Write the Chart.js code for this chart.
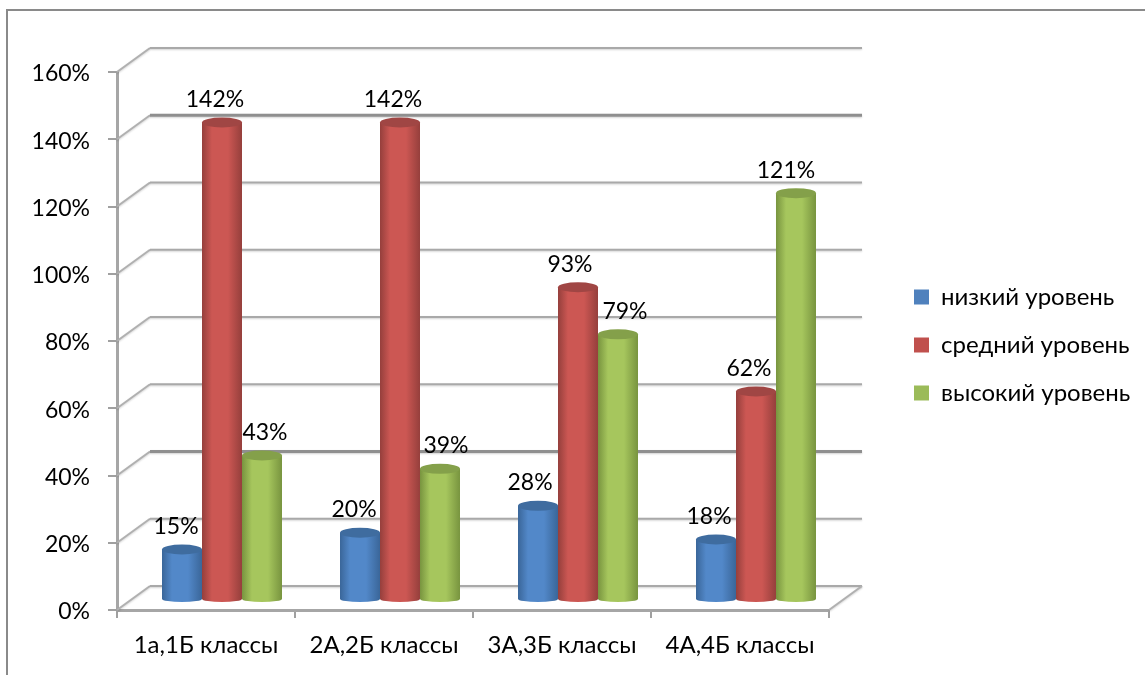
<!DOCTYPE html>
<html><head><meta charset="utf-8">
<style>
html,body{margin:0;padding:0;background:#fff;overflow:hidden}
#frame{position:absolute;left:6px;top:9px;width:1139px;height:666px;border-left:2px solid #8a8a8a;border-top:2px solid #8a8a8a;box-sizing:border-box}
canvas{position:absolute;left:0;top:0}
</style>
<script src="https://cdn.jsdelivr.net/npm/chart.js@4"></script>
</head><body>
<div id="frame"></div>
<canvas id="c" width="1145" height="675"></canvas>
<script>
const categories = ['1а,1Б классы','2А,2Б классы','3А,3Б классы','4А,4Б классы'];
const lowLevel = [15,20,28,18];
const midLevel = [142,142,93,62];
const highLevel = [43,39,79,121];
const seriesNames = ['низкий уровень','средний уровень','высокий уровень'];
const yTicks = [0,20,40,60,80,100,120,140,160];

const FONT = 'Lato, "Noto Sans", sans-serif';
const DEPTH_X = 33, DEPTH_Y = -24, BAR_X = 16, BAR_Y = -10;
const heavy = [40,140];
const palette = [
  {solid:'#4f81bd',edge:'#3a6699',mid:'#5288c9',cap:'#3f6c9f'},
  {solid:'#c0504d',edge:'#953f3c',mid:'#cc5753',cap:'#a04644'},
  {solid:'#9bbb59',edge:'#78943f',mid:'#a6c65d',cap:'#84a04a'}
];
const labelNudge = [[-6,-6,-8,-7],[-7,-7,-8,-7],[3,6,7,-10]];

const wall = {
  id:'wall',
  beforeLayout(chart){
    const lg = chart.legend;
    if(lg && !lg._patched){
      const f = lg.fit;
      lg.fit = function(){ f.call(this); this.width = 316; };
      lg._patched = true;
    }
  },
  afterLayout(chart){
    const lg = chart.legend;
    const pad = chart.options.plugins.legend.labels.padding;
    const h = lg.bottom - lg.top;
    lg.left = 914 - pad;
    lg.top = 285 - pad;
    lg.bottom = lg.top + h;
  },
  beforeDatasetsDraw(chart){
    const {ctx,chartArea:a,scales:{y}} = chart;
    ctx.save();
    ctx.shadowColor='rgba(0,0,0,0.18)';ctx.shadowBlur=2;ctx.shadowOffsetY=1;
    yTicks.forEach(v=>{
      const py = y.getPixelForValue(v), by = py+DEPTH_Y;
      ctx.strokeStyle='#b0b0b0';ctx.lineWidth=2;
      ctx.beginPath();ctx.moveTo(a.left,py);ctx.lineTo(a.left+DEPTH_X,by);ctx.stroke();
      ctx.strokeStyle=heavy.includes(v)?'#8f8f8f':'#a9a9a9';
      ctx.lineWidth=heavy.includes(v)?3:2;
      ctx.beginPath();ctx.moveTo(a.left+DEPTH_X,by);ctx.lineTo(a.right+DEPTH_X,by);ctx.stroke();
    });
    const p0=y.getPixelForValue(0);
    ctx.strokeStyle='#b0b0b0';ctx.lineWidth=2;
    ctx.beginPath();ctx.moveTo(a.right,p0);ctx.lineTo(a.right+DEPTH_X,p0+DEPTH_Y);ctx.stroke();
    ctx.restore();
    ctx.save();
    ctx.translate(BAR_X,BAR_Y);
  },
  afterDatasetsDraw(chart){
    const ctx = chart.ctx;
    chart.data.datasets.forEach((ds,i)=>{
      const c = palette[i];
      chart.getDatasetMeta(i).data.forEach(el=>{
        const {x,y,base,width} = el.getProps(['x','y','base','width'],true);
        const l=x-width/2,r=x+width/2;
        const g=ctx.createLinearGradient(l,0,r,0);
        g.addColorStop(0,c.edge);g.addColorStop(0.25,c.mid);g.addColorStop(0.65,c.mid);g.addColorStop(1,c.edge);
        ctx.fillStyle=g;
        ctx.beginPath();
        ctx.moveTo(l,y);ctx.lineTo(r,y);ctx.lineTo(r,base);
        ctx.ellipse(x,base,width/2,3,0,0,Math.PI);
        ctx.closePath();ctx.fill();
        ctx.fillStyle=c.cap;
        ctx.beginPath();ctx.ellipse(x,y,width/2,5,0,0,Math.PI*2);ctx.fill();
      });
    });
    ctx.fillStyle='#000';
    ctx.font='23px '+FONT;
    ctx.textAlign='center';ctx.textBaseline='middle';
    chart.data.datasets.forEach((ds,i)=>{
      chart.getDatasetMeta(i).data.forEach((el,k)=>{
        const {x,y} = el.getProps(['x','y'],true);
        ctx.fillText(ds.data[k]+'%',x+labelNudge[i][k],y-23);
      });
    });
    ctx.restore();
  }
};

new Chart(document.getElementById('c'),{
  type:'bar',
  data:{labels:categories,datasets:[
    {label:seriesNames[0],data:lowLevel,backgroundColor:palette[0].solid},
    {label:seriesNames[1],data:midLevel,backgroundColor:palette[1].solid},
    {label:seriesNames[2],data:highLevel,backgroundColor:palette[2].solid}
  ]},
  options:{
    responsive:false,animation:false,events:[],
    layout:{padding:{left:0,right:0,top:72,bottom:0}},
    datasets:{bar:{barPercentage:1,categoryPercentage:0.674}},
    scales:{
      x:{
        afterFit(s){s.height=65;},
        grid:{offset:true,drawOnChartArea:false,tickLength:8,color:'#a0a0a0',lineWidth:2},
        border:{color:'#a6a6a6',width:3},
        ticks:{color:'#000',font:{family:FONT,size:24},padding:13,maxRotation:0,autoSkip:false}
      },
      y:{
        min:0,max:160,
        afterFit(s){s.width=117;},
        afterBuildTicks(s){s.ticks=yTicks.map(v=>({value:v}));},
        grid:{drawOnChartArea:false,tickLength:9,color:'#a0a0a0',lineWidth:2},
        border:{color:'#a6a6a6',width:3},
        ticks:{color:'#000',font:{family:FONT,size:23},padding:18,labelOffset:2,callback:v=>v+'%'}
      }
    },
    plugins:{
      tooltip:{enabled:false},
      title:{display:false},
      legend:{
        display:true,position:'right',align:'start',
        labels:{color:'#000',font:{family:FONT,size:24},boxWidth:15,boxHeight:15,padding:24}
      }
    }
  },
  plugins:[wall]
});
</script>
</body></html>
